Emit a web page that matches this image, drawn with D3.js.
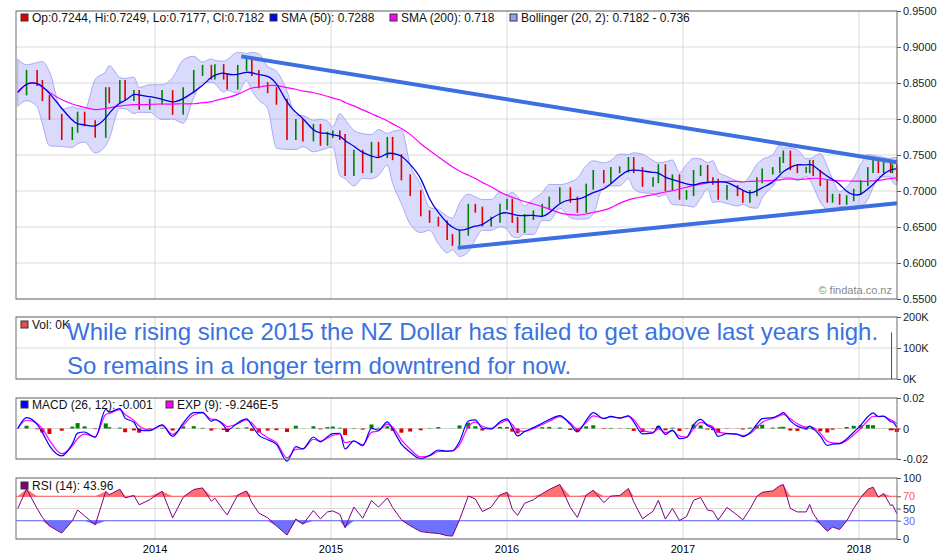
<!DOCTYPE html>
<html><head><meta charset="utf-8">
<script src="https://cdn.jsdelivr.net/npm/d3@7"></script>
<style>body{margin:0;background:#fff}svg{display:block}text{font-family:"Liberation Sans",Arial,sans-serif}</style>
</head><body><svg id="c" width="940" height="560"></svg>
<script>
// decimal-year times and closes
const times=[2013.22,2013.27,2013.33,2013.36,2013.40,2013.47,2013.53,2013.56,2013.60,2013.66,2013.72,2013.74,2013.80,2013.83,2013.88,2013.91,2013.97,2014.04,2014.10,2014.16,2014.22,2014.27,2014.32,2014.34,2014.39,2014.41,2014.47,2014.52,2014.55,2014.59,2014.64,2014.69,2014.75,2014.80,2014.84,2014.90,2014.94,2014.98,2015.01,2015.05,2015.08,2015.13,2015.18,2015.23,2015.27,2015.32,2015.35,2015.40,2015.45,2015.51,2015.56,2015.61,2015.66,2015.69,2015.73,2015.78,2015.82,2015.86,2015.91,2015.96,2016.00,2016.03,2016.06,2016.10,2016.15,2016.20,2016.24,2016.30,2016.36,2016.40,2016.45,2016.49,2016.55,2016.59,2016.64,2016.69,2016.72,2016.77,2016.83,2016.86,2016.90,2016.94,2016.98,2017.02,2017.06,2017.10,2017.14,2017.17,2017.20,2017.25,2017.31,2017.34,2017.38,2017.42,2017.45,2017.51,2017.55,2017.57,2017.61,2017.65,2017.70,2017.72,2017.74,2017.78,2017.82,2017.85,2017.89,2017.93,2017.97,2018.01,2018.05,2018.08,2018.11,2018.14,2018.18,2018.19,2018.215];
const closes=[0.837,0.864,0.850,0.829,0.803,0.775,0.785,0.806,0.794,0.778,0.840,0.826,0.850,0.829,0.836,0.817,0.824,0.836,0.810,0.840,0.864,0.871,0.859,0.872,0.859,0.845,0.871,0.882,0.864,0.847,0.840,0.824,0.775,0.796,0.773,0.789,0.767,0.778,0.780,0.775,0.725,0.753,0.729,0.764,0.750,0.771,0.747,0.719,0.697,0.669,0.660,0.655,0.636,0.628,0.642,0.678,0.674,0.655,0.660,0.678,0.685,0.660,0.646,0.664,0.669,0.678,0.688,0.701,0.688,0.674,0.706,0.725,0.715,0.729,0.730,0.743,0.729,0.710,0.715,0.733,0.704,0.719,0.692,0.697,0.725,0.732,0.715,0.713,0.692,0.704,0.697,0.688,0.697,0.715,0.727,0.729,0.743,0.752,0.733,0.729,0.729,0.739,0.725,0.711,0.688,0.692,0.685,0.690,0.699,0.711,0.729,0.739,0.729,0.739,0.729,0.733,0.718];
const yearTicks=[2014,2015,2016,2017,2018];
const priceTicks=[0.55,0.60,0.65,0.70,0.75,0.80,0.85,0.90,0.95];
const volTicks=[0,100000,200000];
const volSpike={t:2018.185,v:150000};
const macdTicks=[-0.02,0,0.02];
const rsiTicks=[0,30,50,70,100];
const upperTrend=[{t:2014.49,p:0.887},{t:2018.216,p:0.740}];
const lowerTrend=[{t:2015.72,p:0.621},{t:2018.216,p:0.683}];

const svg=d3.select("#c");
const L=16,R=897;
const x=d3.scaleLinear().domain([2013.21,2018.216]).range([L,R]);
const panels={main:[11,299],vol:[317,379],macd:[398,459],rsi:[478,539]};
const yP=d3.scaleLinear().domain([0.55,0.95]).range(panels.main.slice().reverse());
const yV=d3.scaleLinear().domain([0,200000]).range(panels.vol.slice().reverse());
const yM=d3.scaleLinear().domain([-0.02,0.02]).range(panels.macd.slice().reverse());
const yR=d3.scaleLinear().domain([0,100]).range(panels.rsi.slice().reverse());
const grid="#d9d9d9";

function frame(p,ys,ticks,fmt){
  const g=svg.append("g");
  g.selectAll(".vg").data(yearTicks).join("line").attr("x1",d=>x(d)).attr("x2",d=>x(d)).attr("y1",p[0]).attr("y2",p[1]).attr("stroke",grid);
  g.selectAll(".hg").data(ticks).join("line").attr("x1",L).attr("x2",R).attr("y1",d=>ys(d)).attr("y2",d=>ys(d)).attr("stroke",grid);
  const ax=d3.axisRight(ys).tickValues(ticks).tickFormat(fmt).tickSize(4);
  const a=svg.append("g").attr("transform",`translate(${R},0)`).call(ax);
  a.select(".domain").remove();
  a.selectAll("line").attr("stroke","#555");
  a.selectAll("text").attr("font-size",11).attr("fill","#222").attr("x",6);
  return a;
}
frame(panels.main,yP,priceTicks,d3.format(".4f"));
frame(panels.vol,yV,volTicks,d=>d/1000+"K");
frame(panels.macd,yM,macdTicks,d=>d===0?"0":d3.format(".2f")(d).replace("−","-"));
const ra=frame(panels.rsi,yR,rsiTicks,d3.format("d"));
ra.selectAll("text").attr("fill",d=>d===70?"#ff5a5a":d===30?"#6a6aff":"#222");

const pts=times.map((t,i)=>({t,c:closes[i]}));
function win(i,span){return pts.filter(p=>p.t<=pts[i].t&&p.t>pts[i].t-span).map(p=>p.c);}
const sma50=pts.map((p,i)=>({t:p.t,v:d3.mean(win(i,0.2))}));
const sma200=pts.map((p,i)=>({t:p.t,v:d3.mean(win(i,0.95))}));
const boll=pts.map((p,i)=>{const w=win(i,0.1).concat(pts[Math.min(i+1,pts.length-1)].c);const m=d3.mean(w),s=d3.deviation(w)||0.004;return {t:p.t,lo:m-1.4*s-0.006,hi:m+1.4*s+0.006};});

svg.append("path").datum(boll).attr("fill","rgba(150,150,245,0.35)").attr("stroke","#a9a9f5").attr("stroke-width",1)
 .attr("d",d3.area().x(d=>x(d.t)).y0(d=>yP(d.lo)).y1(d=>yP(d.hi)).curve(d3.curveMonotoneX));
const cand=pts.slice(1).map((p,i)=>({t:p.t,o:pts[i].c,c:p.c}));
svg.append("g").selectAll("line").data(cand).join("line")
 .attr("x1",d=>x(d.t)).attr("x2",d=>x(d.t)).attr("y1",d=>yP(Math.max(d.o,d.c))-3).attr("y2",d=>yP(Math.min(d.o,d.c))+3)
 .attr("stroke",d=>d.c>=d.o?"#008000":"#e00000").attr("stroke-width",1.6);
svg.append("path").datum(sma200).attr("fill","none").attr("stroke","#ff00ff").attr("stroke-width",1.2)
 .attr("d",d3.line().x(d=>x(d.t)).y(d=>yP(d.v)).curve(d3.curveBasis));
svg.append("path").datum(sma50).attr("fill","none").attr("stroke","#0000e0").attr("stroke-width",1.3)
 .attr("d",d3.line().x(d=>x(d.t)).y(d=>yP(d.v)).curve(d3.curveBasis));
[upperTrend,lowerTrend].forEach(tr=>svg.append("line").attr("x1",x(tr[0].t)).attr("y1",yP(tr[0].p)).attr("x2",x(tr[1].t)).attr("y2",yP(tr[1].p)).attr("stroke","#3d6fe0").attr("stroke-width",4));
svg.append("text").attr("x",892).attr("y",294).attr("text-anchor","end").attr("font-size",11).attr("fill","#888").text("© findata.co.nz");

svg.append("line").attr("x1",x(volSpike.t)).attr("x2",x(volSpike.t)).attr("y1",yV(0)).attr("y2",yV(volSpike.v)).attr("stroke","#008000").attr("stroke-width",1);

function ema(vals,tau){let e=vals[0].v;return vals.map((p,i)=>{if(i>0){const a=1-Math.exp(-(p.t-vals[i-1].t)/tau);e+=a*(p.v-e);}return {t:p.t,v:e};});}
const cv=pts.map(p=>({t:p.t,v:p.c}));
const e12=ema(cv,12/252),e26=ema(cv,26/252);
const macd=e12.map((p,i)=>({t:p.t,v:(p.v-e26[i].v)}));
const sig=ema(macd,9/252);
svg.append("g").selectAll("rect").data(macd).join("rect")
 .attr("x",d=>x(d.t)-2).attr("width",4).attr("y",(d,i)=>yM(Math.max(0,d.v-sig[i].v))).attr("height",(d,i)=>Math.abs(yM(d.v-sig[i].v)-yM(0)))
 .attr("fill",(d,i)=>d.v>=sig[i].v?"#008000":"#e00000");
const mline=d3.line().x(d=>x(d.t)).y(d=>yM(d.v)).curve(d3.curveMonotoneX);
svg.append("path").datum(sig).attr("fill","none").attr("stroke","#ff00ff").attr("stroke-width",1.2).attr("d",mline);
svg.append("path").datum(macd).attr("fill","none").attr("stroke","#0000ff").attr("stroke-width",1.2).attr("d",mline);

let ag=0.004,al=0.004;const tauR=30/252;
const rsi=pts.map((p,i)=>{if(i>0){const d=p.c-pts[i-1].c,a=1-Math.exp(-(p.t-pts[i-1].t)/tauR);ag+=a*(Math.max(d,0)-ag);al+=a*(Math.max(-d,0)-al);}return {t:p.t,v:100-100/(1+ag/al)};});
svg.append("path").datum(rsi).attr("fill","#ff7070").attr("d",d3.area().x(d=>x(d.t)).y0(yR(70)).y1(d=>yR(Math.max(70,d.v))));
svg.append("path").datum(rsi).attr("fill","#7070ff").attr("d",d3.area().x(d=>x(d.t)).y0(yR(30)).y1(d=>yR(Math.min(30,d.v))));
svg.append("line").attr("x1",L).attr("x2",R).attr("y1",yR(70)).attr("y2",yR(70)).attr("stroke","#ff5a5a");
svg.append("line").attr("x1",L).attr("x2",R).attr("y1",yR(30)).attr("y2",yR(30)).attr("stroke","#6a6aff");
svg.append("path").datum(rsi).attr("fill","none").attr("stroke","#800080").attr("stroke-width",1).attr("d",d3.line().x(d=>x(d.t)).y(d=>yR(d.v)));

Object.values(panels).forEach(p=>svg.append("rect").attr("x",L).attr("y",p[0]).attr("width",R-L).attr("height",p[1]-p[0]).attr("fill","none").attr("stroke","#6e6e6e"));
svg.append("g").selectAll("text").data(yearTicks).join("text").attr("x",d=>x(d)).attr("y",553).attr("text-anchor","middle").attr("font-size",11).text(d=>d);

function leg(xp,yp,col,label){svg.append("rect").attr("x",xp).attr("y",yp-8).attr("width",7).attr("height",7).attr("fill",col).attr("stroke","#333");svg.append("text").attr("x",xp+11).attr("y",yp).attr("font-size",12).attr("font-family","Liberation Sans").attr("fill","#111").text(label);}
leg(21,22,"#e00000","Op:0.7244, Hi:0.7249, Lo:0.7177, Cl:0.7182");
leg(270,22,"#0000ff","SMA (50): 0.7288");
leg(390,22,"#ff00ff","SMA (200): 0.718");
leg(510,22,"#9a9af5","Bollinger (20, 2): 0.7182 - 0.736");
leg(21,329,"#e05050","Vol: 0K");
leg(21,409,"#0000ff","MACD (26, 12): -0.001");
leg(166,409,"#ff00ff","EXP (9): -9.246E-5");
leg(21,490,"#800080","RSI (14): 43.96");

svg.append("text").attr("x",67).attr("y",340).attr("font-size",24).attr("fill","#3a72e0").text("While rising since 2015 the NZ Dollar has failed to get above last years high.");
svg.append("text").attr("x",67).attr("y",374).attr("font-size",24).attr("fill","#3a72e0").text("So remains in a longer term downtrend for now.");
</script></body></html>
